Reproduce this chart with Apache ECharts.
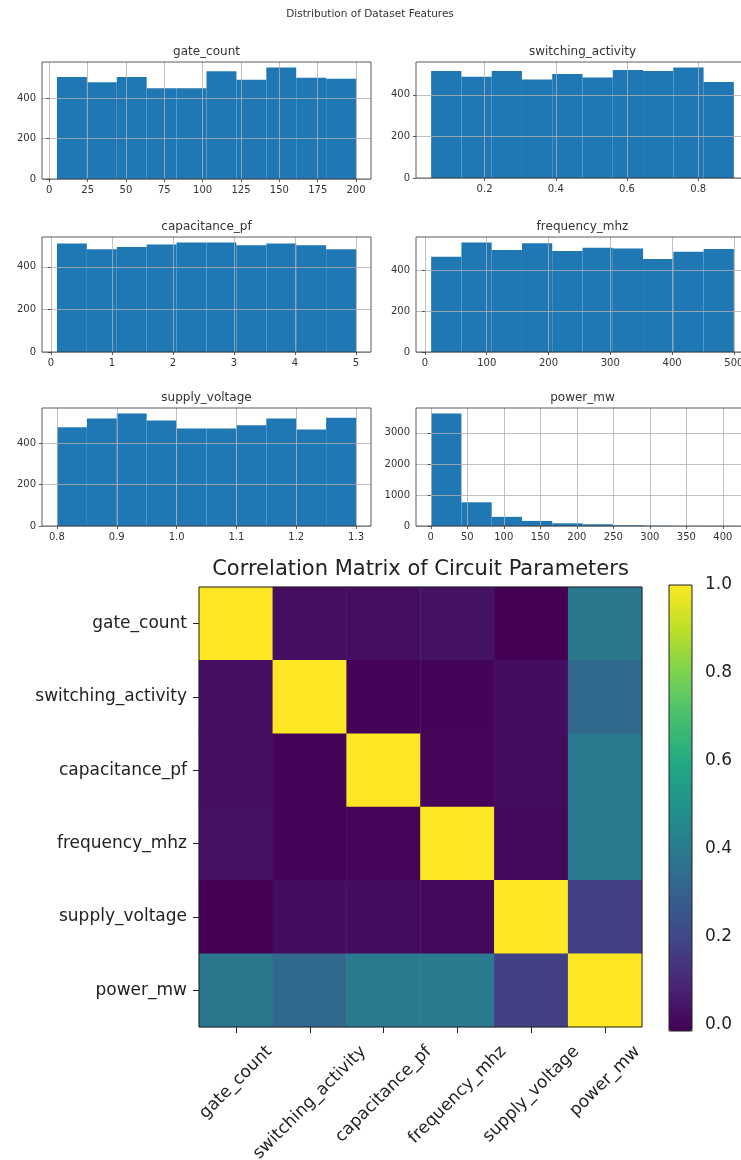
<!DOCTYPE html>
<html>
<head>
<meta charset="utf-8">
<script src="https://cdn.jsdelivr.net/npm/echarts@6/dist/echarts.min.js"></script>
<style>
  html, body { margin: 0; padding: 0; background: #fff; }
  #main { width: 741px; height: 1160px; }
</style>
</head>
<body>
<div id="main"></div>
<script>
const features = ['gate_count', 'switching_activity', 'capacitance_pf', 'frequency_mhz', 'supply_voltage', 'power_mw'];

// histogram counts, 10 bins per feature
const gateCountCounts = [503, 478, 503, 448, 448, 532, 490, 550, 500, 495];
const switchingCounts = [514, 487, 514, 473, 500, 483, 519, 514, 531, 462];
const capacitanceCounts = [509, 482, 493, 504, 514, 514, 501, 509, 501, 482];
const frequencyCounts = [465, 534, 497, 530, 492, 508, 505, 453, 489, 502];
const voltageCounts = [477, 520, 543, 510, 471, 471, 487, 520, 466, 523];
const powerCounts = [3620, 763, 295, 164, 87, 55, 22, 10, 5, 3];

// data range (min, max) of each feature
const gateCountRange = [5, 200];
const switchingRange = [0.05, 0.9];
const capacitanceRange = [0.1, 5.0];
const frequencyRange = [10, 500];
const voltageRange = [0.8, 1.3];
const powerRange = [0.5, 415];

// tick labels
const gateCountTicks = [0, 25, 50, 75, 100, 125, 150, 175, 200];
const switchingTicks = [0.2, 0.4, 0.6, 0.8];
const capacitanceTicks = [0, 1, 2, 3, 4, 5];
const frequencyTicks = [0, 100, 200, 300, 400, 500];
const voltageTicks = [0.8, 0.9, 1.0, 1.1, 1.2, 1.3];
const powerTicks = [0, 50, 100, 150, 200, 250, 300, 350, 400];
const countTicks = [0, 200, 400];
const powerCountTicks = [0, 1000, 2000, 3000];

// correlation matrix rows
const corrGateCount = [1.00, 0.025, 0.025, 0.035, -0.014, 0.39];
const corrSwitching = [0.025, 1.00, -0.002, -0.003, 0.020, 0.33];
const corrCapacitance = [0.025, -0.002, 1.00, -0.001, 0.015, 0.40];
const corrFrequency = [0.035, -0.003, -0.001, 1.00, 0.010, 0.40];
const corrVoltage = [-0.014, 0.020, 0.015, 0.010, 1.00, 0.18];
const corrPower = [0.39, 0.33, 0.40, 0.40, 0.18, 1.00];
const corrRows = [corrGateCount, corrSwitching, corrCapacitance, corrFrequency, corrVoltage, corrPower];

const colorbarRange = [-0.014, 1.0];
const colorbarTicks = [0, 0.2, 0.4, 0.6, 0.8, 1.0];

const viridis = ['#440154', '#482475', '#414487', '#355f8d', '#2a788e', '#21918c',
                 '#22a884', '#44bf70', '#7ad151', '#bddf26', '#fde725'];

const FONT = 'DejaVu Sans';

const panels = [
  { name: features[0], range: gateCountRange, counts: gateCountCounts, xTicks: gateCountTicks, yTicks: countTicks, digits: 0 },
  { name: features[1], range: switchingRange, counts: switchingCounts, xTicks: switchingTicks, yTicks: countTicks, digits: 1 },
  { name: features[2], range: capacitanceRange, counts: capacitanceCounts, xTicks: capacitanceTicks, yTicks: countTicks, digits: 0 },
  { name: features[3], range: frequencyRange, counts: frequencyCounts, xTicks: frequencyTicks, yTicks: countTicks, digits: 0 },
  { name: features[4], range: voltageRange, counts: voltageCounts, xTicks: voltageTicks, yTicks: countTicks, digits: 1 },
  { name: features[5], range: powerRange, counts: powerCounts, xTicks: powerTicks, yTicks: powerCountTicks, digits: 0 }
];

// pixel boxes of the six histogram axes
const histBoxes = [
  { left: 42, top: 62, width: 329, height: 117 },
  { left: 416, top: 62, width: 333, height: 116 },
  { left: 42, top: 237, width: 329, height: 115 },
  { left: 416, top: 237, width: 333, height: 115 },
  { left: 42, top: 408, width: 329, height: 118 },
  { left: 416, top: 408, width: 333, height: 118 }
];
const heatBox = { left: 199, top: 587, width: 443, height: 440 };
const barBox = { left: 669, top: 585, width: 23, height: 446 };

function binData(range, counts) {
  const step = (range[1] - range[0]) / counts.length;
  return counts.map((c, i) => [range[0] + i * step, range[0] + (i + 1) * step, c]);
}

function renderBin(params, api) {
  const a = api.coord([api.value(0), 0]);
  const b = api.coord([api.value(1), api.value(2)]);
  return {
    type: 'rect',
    shape: { x: a[0], y: b[1], width: b[0] - a[0], height: a[1] - b[1] },
    style: { fill: '#1f77b4' }
  };
}

// measure label widths so rotated labels can be centred under their ticks
// (matplotlib style: bbox centred on the tick, top of bbox at a fixed line)
const measureCtx = document.createElement('canvas').getContext('2d');
const HEAT_FS = 17;
measureCtx.font = HEAT_FS + 'px "' + FONT + '"';
const X_LABEL_MARGIN = 6;
const X_LABEL_TOP = 1043;

function rotatedLabelPadding(name) {
  const L = measureCtx.measureText(name).width;
  const h = HEAT_FS;
  const anchorY = heatBox.top + heatBox.height + X_LABEL_MARGIN;
  const dy = X_LABEL_TOP + 0.3536 * (L + h) - anchorY;
  const b = dy / Math.SQRT2;
  return [Math.max(0, b - h / 2), 2 * b, 0, 0];
}

const grids = [], xAxes = [], yAxes = [], series = [], titles = [];

titles.push({
  text: 'Distribution of Dataset Features', left: 370, top: 9, padding: 0, textAlign: 'center',
  textStyle: { fontSize: 10.5, fontWeight: 'normal', color: '#333', fontFamily: FONT }
});

panels.forEach((p, i) => {
  const box = histBoxes[i];
  const pad = (p.range[1] - p.range[0]) * 0.05;
  const ymax = Math.max.apply(null, p.counts) * 1.05;
  grids.push({
    left: box.left, top: box.top, width: box.width, height: box.height,
    show: true, borderColor: '#333', borderWidth: 0.8, z: 5, outerBoundsMode: 'none'
  });
  xAxes.push({
    type: 'value', gridIndex: i, min: p.range[0] - pad, max: p.range[1] + pad, z: 3,
    axisLine: { show: false },
    axisTick: { show: true, customValues: p.xTicks, length: 3, lineStyle: { color: '#333', width: 0.8 } },
    axisLabel: {
      customValues: p.xTicks, fontSize: 10, color: '#333', fontFamily: FONT, margin: 6,
      formatter: v => v.toFixed(p.digits)
    },
    splitLine: { show: true, lineStyle: { color: '#b0b0b0', width: 0.8 } }
  });
  yAxes.push({
    type: 'value', gridIndex: i, min: 0, max: ymax, z: 3,
    axisLine: { show: false },
    axisTick: { show: true, customValues: p.yTicks, length: 3, lineStyle: { color: '#333', width: 0.8 } },
    axisLabel: {
      customValues: p.yTicks, fontSize: 10, color: '#333', fontFamily: FONT, margin: 6,
      formatter: v => String(v)
    },
    splitLine: { show: true, lineStyle: { color: '#b0b0b0', width: 0.8 } }
  });
  series.push({
    type: 'custom', xAxisIndex: i, yAxisIndex: i, renderItem: renderBin,
    encode: { x: [0, 1], y: 2 }, data: binData(p.range, p.counts), silent: true
  });
  titles.push({
    text: p.name, left: box.left + box.width / 2, top: box.top - 16, padding: 0, textAlign: 'center',
    textStyle: { fontSize: 12, fontWeight: 'normal', color: '#333', fontFamily: FONT }
  });
});

// correlation heatmap
const heatData = [];
corrRows.forEach((row, r) => row.forEach((v, c) => heatData.push([c, r, v])));

grids.push({
  left: heatBox.left, top: heatBox.top, width: heatBox.width, height: heatBox.height,
  show: true, borderColor: '#222', borderWidth: 1, z: 5, outerBoundsMode: 'none'
});
xAxes.push({
  type: 'category', gridIndex: 6,
  data: features.map(n => ({
    value: n,
    textStyle: { padding: rotatedLabelPadding(n), align: 'center', verticalAlign: 'top' }
  })),
  axisLine: { show: false },
  axisTick: { show: true, alignWithLabel: true, length: 6, lineStyle: { color: '#222' } },
  axisLabel: {
    interval: 0, rotate: 45, align: 'center', verticalAlign: 'top', margin: X_LABEL_MARGIN,
    fontSize: HEAT_FS, color: '#222', fontFamily: FONT
  },
  splitLine: { show: false }
});
yAxes.push({
  type: 'category', gridIndex: 6, inverse: true, data: features,
  axisLine: { show: false },
  axisTick: { show: true, alignWithLabel: true, length: 6, lineStyle: { color: '#222' } },
  axisLabel: { interval: 0, margin: 12, fontSize: HEAT_FS, color: '#222', fontFamily: FONT },
  splitLine: { show: false }
});
series.push({
  type: 'heatmap', xAxisIndex: 6, yAxisIndex: 6, data: heatData,
  itemStyle: { borderWidth: 0 }, emphasis: { disabled: true }, silent: true
});
titles.push({
  text: 'Correlation Matrix of Circuit Parameters', left: heatBox.left + heatBox.width / 2, top: 559,
  padding: 0, textAlign: 'center',
  textStyle: { fontSize: 21, fontWeight: 'normal', color: '#222', fontFamily: FONT }
});

// colorbar axis
grids.push({
  left: barBox.left, top: barBox.top, width: barBox.width, height: barBox.height,
  show: true, borderColor: '#222', borderWidth: 1, z: 5, outerBoundsMode: 'none'
});
xAxes.push({ type: 'value', gridIndex: 7, show: false, min: 0, max: 1 });
yAxes.push({
  type: 'value', gridIndex: 7, position: 'right', min: colorbarRange[0], max: colorbarRange[1],
  axisLine: { show: false },
  axisTick: { show: true, customValues: colorbarTicks, length: 6, lineStyle: { color: '#222' } },
  axisLabel: {
    customValues: colorbarTicks, margin: 13, fontSize: HEAT_FS, color: '#222', fontFamily: FONT,
    formatter: v => v.toFixed(1)
  },
  splitLine: { show: false }
});

const chart = echarts.init(document.getElementById('main'), null, { renderer: 'canvas' });
chart.setOption({
  backgroundColor: '#fff',
  animation: false,
  title: titles,
  grid: grids,
  xAxis: xAxes,
  yAxis: yAxes,
  visualMap: {
    type: 'continuous', min: colorbarRange[0], max: colorbarRange[1], seriesIndex: 6,
    calculable: false, hoverLink: false, show: true, orient: 'vertical',
    left: barBox.left - 5, top: barBox.top - 5, padding: 5,
    itemWidth: barBox.width, itemHeight: barBox.height, text: null,
    inRange: { color: viridis }
  },
  series: series
});
</script>
</body>
</html>
